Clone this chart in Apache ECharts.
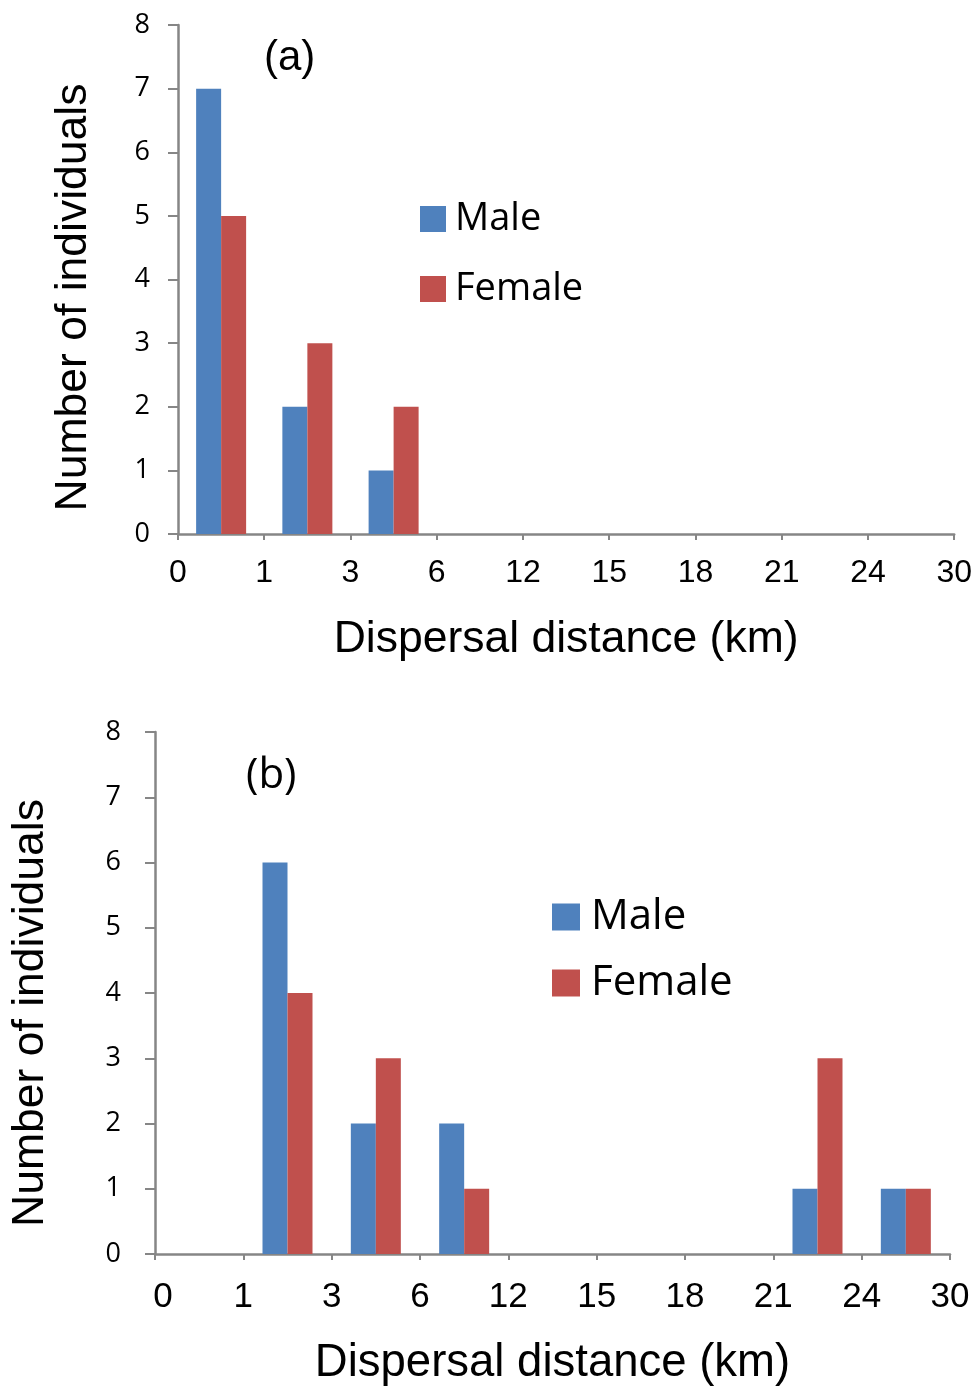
<!DOCTYPE html>
<html>
<head>
<meta charset="utf-8">
<script src="https://cdn.jsdelivr.net/npm/echarts@6/dist/echarts.min.js"></script>
<style>
  html, body { margin: 0; padding: 0; background: #fff; }
  #chart { width: 975px; height: 1387px; }
</style>
</head>
<body>
<div id="chart"></div>
<script>
  // bin edges (km) shown under the axis, bins lie between them
  const tickLabels = ['0', '1', '3', '6', '12', '15', '18', '21', '24', '30'];
  const maleA = [7, 2, 1, 0, 0, 0, 0, 0, 0];
  const femaleA = [5, 3, 2, 0, 0, 0, 0, 0, 0];
  const maleB = [0, 6, 2, 2, 0, 0, 0, 1, 1];
  const femaleB = [0, 4, 3, 1, 0, 0, 0, 3, 1];

  const blue = '#4F81BD';
  const red = '#C0504D';
  const axisGray = '#868686';
  const arial = 'Liberation Sans, Arial, sans-serif';
  const calibri = 'Open Sans, sans-serif';

  // put each count in the middle of its bin
  const toPoints = arr => arr.map((v, i) => [i + 0.5, v]);

  function xAxisFor(gridIndex, fontSize, margin, nameSize, nameGap, nudgeFirst) {
    return {
      type: 'value',
      gridIndex: gridIndex,
      min: 0,
      max: 9,
      interval: 1,
      name: 'Dispersal distance (km)',
      nameLocation: 'middle',
      nameGap: nameGap,
      nameTextStyle: { fontSize: nameSize, color: '#000', fontFamily: arial },
      axisLine: { lineStyle: { color: axisGray, width: 2.5 } },
      axisTick: { show: true, length: 6, lineStyle: { color: axisGray, width: 2 } },
      splitLine: { show: false },
      axisLabel: {
        color: '#000',
        fontSize: fontSize,
        fontFamily: arial,
        margin: margin,
        formatter: v => {
          const i = Math.round(v);
          return (i === 0 && nudgeFirst) ? '{first|' + tickLabels[i] + '}' : tickLabels[i];
        },
        rich: { first: { fontSize: fontSize, fontFamily: arial, color: '#000', padding: [0, 0, 0, 16] } }
      }
    };
  }

  function yAxisFor(gridIndex, nameGap, margin, shift) {
    return {
      type: 'value',
      gridIndex: gridIndex,
      min: 0,
      max: 8,
      interval: 1,
      name: 'Number of individuals',
      nameLocation: 'middle',
      nameRotate: 90,
      nameGap: nameGap,
      nameTextStyle: { fontSize: 44.5, color: '#000', fontFamily: arial, padding: [0, shift, 0, 0] },
      axisLine: { show: true, lineStyle: { color: axisGray, width: 2.5 } },
      axisTick: { show: true, length: 10, lineStyle: { color: axisGray, width: 2 } },
      splitLine: { show: false },
      axisLabel: { color: '#000', fontSize: 27, fontFamily: calibri, margin: margin }
    };
  }

  function barSeries(name, color, data, idx) {
    return {
      name: name,
      type: 'bar',
      xAxisIndex: idx,
      yAxisIndex: idx,
      data: toPoints(data),
      barWidth: 25,
      barGap: '0%',
      itemStyle: { color: color, borderWidth: 0 }
    };
  }

  const myChart = echarts.init(document.getElementById('chart'));
  myChart.setOption({
    backgroundColor: '#fff',
    animation: false,
    title: [
      { text: '(a)', left: 264, top: 37, padding: 0,
        textStyle: { fontSize: 42, fontWeight: 'normal', color: '#000', fontFamily: arial } },
      { text: '(b)', left: 246, top: 755, padding: 0,
        textStyle: { fontSize: 42, fontWeight: 'normal', color: '#000', fontFamily: calibri } }
    ],
    legend: [
      { orient: 'vertical', left: 420, top: 200, padding: 0, itemWidth: 26, itemHeight: 26, itemGap: 32,
        icon: 'rect', data: ['Male', 'Female'],
        textStyle: { fontSize: 38, color: '#000', fontFamily: calibri, padding: [0, 0, 0, 4] } },
      { orient: 'vertical', left: 552, top: 896, padding: 0, itemWidth: 28, itemHeight: 27, itemGap: 24,
        icon: 'rect', data: ['Male', 'Female'],
        textStyle: { fontSize: 42, color: '#000', fontFamily: calibri, padding: [0, 0, 0, 6] } }
    ],
    grid: [
      { left: 178, top: 25, right: 20, height: 509 },
      { left: 155, top: 732, right: 25, height: 525 }
    ],
    xAxis: [xAxisFor(0, 32, 23, 44.5, 83, false), xAxisFor(1, 35, 26, 45.5, 86, true)],
    yAxis: [yAxisFor(0, 82, 28, 36), yAxisFor(1, 102, 34, 40)],
    series: [
      barSeries('Male', blue, maleA, 0),
      barSeries('Female', red, femaleA, 0),
      barSeries('Male', blue, maleB, 1),
      barSeries('Female', red, femaleB, 1)
    ]
  });
</script>
</body>
</html>
